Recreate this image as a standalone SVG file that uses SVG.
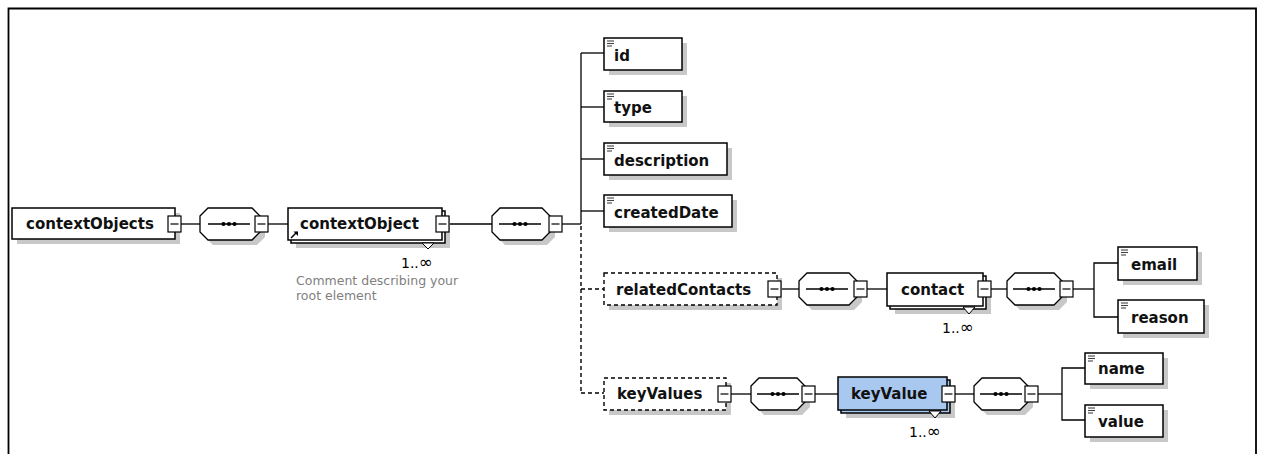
<svg xmlns="http://www.w3.org/2000/svg" width="1264" height="454" viewBox="0 0 1264 454">
<defs>
<style>
.bx{fill:#fff;stroke:#000;stroke-width:1.5}
.dbx{fill:#fff;stroke:#000;stroke-width:1.4;stroke-dasharray:4,3}
.blue{fill:#a9c8ef;stroke:#000;stroke-width:1.5}
.sh{fill:#c8c8c8}
.ln{fill:none;stroke:#000;stroke-width:1.3}
.dl{fill:none;stroke:#000;stroke-width:1.4;stroke-dasharray:4,3}
.t{font-family:"DejaVu Sans",sans-serif;font-weight:bold;font-size:15px;fill:#111}
.occ{font-family:"DejaVu Sans",sans-serif;font-size:14px;fill:#000}
.inf{font-size:17px}
.cm{font-family:"DejaVu Sans",sans-serif;font-size:12.5px;fill:#808080}
.btn{fill:#fff;stroke:#000;stroke-width:1.2}
.oct{fill:#fff;stroke:#000;stroke-width:1.3}
.ic{stroke:#444;stroke-width:1.1}
</style>
<g id="btn"><rect class="btn" x="0" y="0" width="13" height="16"/><line x1="2.5" y1="8" x2="10.5" y2="8" stroke="#000" stroke-width="1.2"/></g>
<g id="seqin"><line x1="-21" y1="0" x2="21" y2="0" stroke="#000" stroke-width="1.3"/><circle cx="-5.5" cy="0" r="2.1" fill="#000"/><circle cx="0" cy="0" r="2.1" fill="#000"/><circle cx="5.5" cy="0" r="2.1" fill="#000"/></g>
<g id="simp"><line class="ic" x1="0" y1="0" x2="7" y2="0"/><line class="ic" x1="0" y1="2.5" x2="7" y2="2.5"/><line class="ic" x1="0" y1="5" x2="5" y2="5"/></g>
</defs>
<rect width="1264" height="454" fill="#fff"/>
<path d="M8.5,454 V8.5 H1256 V454" fill="none" stroke="#000" stroke-width="1.8"/>

<g id="connectors">
<line class="ln" x1="181" y1="224" x2="200" y2="224"/>
<line class="ln" x1="268" y1="224" x2="288" y2="224"/>
<line class="ln" x1="449" y1="224" x2="492" y2="224"/>
<line class="ln" x1="562" y1="224" x2="581" y2="224"/>
<line class="ln" x1="581" y1="53" x2="581" y2="224"/>
<line class="dl" x1="581" y1="226" x2="581" y2="393"/>
<line class="ln" x1="581" y1="53" x2="604" y2="53"/>
<line class="ln" x1="581" y1="107" x2="604" y2="107"/>
<line class="ln" x1="581" y1="159" x2="604" y2="159"/>
<line class="ln" x1="581" y1="211" x2="604" y2="211"/>
<line class="dl" x1="581" y1="289" x2="604" y2="289"/>
<line class="dl" x1="581" y1="393" x2="604" y2="393"/>
<line class="ln" x1="781" y1="289" x2="799" y2="289"/>
<line class="ln" x1="867" y1="289" x2="887" y2="289"/>
<line class="ln" x1="991" y1="289" x2="1007" y2="289"/>
<line class="ln" x1="1073" y1="289" x2="1094" y2="289"/>
<path class="ln" d="M1118,263 H1094 V317 H1118"/>
<line class="ln" x1="731" y1="394" x2="751" y2="394"/>
<line class="ln" x1="815" y1="394" x2="838" y2="394"/>
<line class="ln" x1="955" y1="394" x2="974" y2="394"/>
<line class="ln" x1="1038" y1="394" x2="1062" y2="394"/>
<path class="ln" d="M1085,368 H1062 V420 H1085"/>
</g>

<g id="contextObjects">
<rect class="sh" x="17" y="213" width="163" height="31"/>
<rect class="bx" x="12" y="208" width="163" height="31"/>
<text class="t" x="26" y="229">contextObjects</text>
<use href="#btn" x="168" y="216"/>
</g>

<g id="seq1">
<path class="sh" d="M205,221 L213,213 L257,213 L265,221 L265,237 L257,245 L213,245 L205,237Z"/>
<path class="oct" d="M200,216 L208,208 L252,208 L260,216 L260,232 L252,240 L208,240 L200,232Z"/>
<use href="#seqin" x="229" y="224"/>
<use href="#btn" x="255" y="216"/>
</g>

<g id="contextObject">
<rect class="sh" x="296" y="216" width="154" height="32"/>
<rect class="bx" x="291" y="211" width="154" height="32"/>
<rect class="bx" x="288" y="208" width="154" height="32"/>
<text class="t" x="300" y="229">contextObject</text>
<path d="M291,238 L297,232" stroke="#000" stroke-width="1.5"/>
<path d="M293.5,231.5 L298,231.5 L298,236Z" fill="#000"/>
<use href="#btn" x="436" y="216"/>
<path d="M422,243 L434,243 L428,249Z" fill="#fff" stroke="#000" stroke-width="1"/>
<text class="occ" x="401" y="268">1..<tspan class="inf">∞</tspan></text>
<text class="cm" x="296" y="285">Comment describing your</text>
<text class="cm" x="296" y="300">root element</text>
</g>

<g id="seq2">
<path class="sh" d="M497,221 L505,213 L547,213 L555,221 L555,237 L547,245 L505,245 L497,237Z"/>
<path class="oct" d="M492,216 L500,208 L542,208 L550,216 L550,232 L542,240 L500,240 L492,232Z"/>
<use href="#seqin" x="520" y="224"/>
<use href="#btn" x="549" y="216"/>
</g>

<g id="id">
<rect class="sh" x="609" y="43" width="78" height="32"/>
<rect class="bx" x="604" y="38" width="78" height="32"/>
<use href="#simp" x="607" y="41"/>
<text class="t" x="614" y="61">id</text>
</g>
<g id="type">
<rect class="sh" x="609" y="96" width="78" height="31"/>
<rect class="bx" x="604" y="91" width="78" height="31"/>
<use href="#simp" x="607" y="94"/>
<text class="t" x="614" y="113">type</text>
</g>
<g id="description">
<rect class="sh" x="609" y="148" width="123" height="32"/>
<rect class="bx" x="604" y="143" width="123" height="32"/>
<use href="#simp" x="607" y="146"/>
<text class="t" x="614" y="166">description</text>
</g>
<g id="createdDate">
<rect class="sh" x="609" y="200" width="128" height="32"/>
<rect class="bx" x="604" y="195" width="128" height="32"/>
<use href="#simp" x="607" y="198"/>
<text class="t" x="614" y="218">createdDate</text>
</g>

<g id="relatedContacts">
<rect class="sh" x="609" y="278" width="173" height="32"/>
<rect class="dbx" x="604" y="273" width="173" height="32"/>
<text class="t" x="616" y="295">relatedContacts</text>
<use href="#btn" x="768" y="281"/>
</g>

<g id="seq3">
<path class="sh" d="M804,286 L812,278 L854,278 L862,286 L862,302 L854,310 L812,310 L804,302Z"/>
<path class="oct" d="M799,281 L807,273 L849,273 L857,281 L857,297 L849,305 L807,305 L799,297Z"/>
<use href="#seqin" x="827" y="289"/>
<use href="#btn" x="854" y="281"/>
</g>

<g id="contact">
<rect class="sh" x="895" y="281" width="96" height="33"/>
<rect class="bx" x="890" y="276" width="96" height="33"/>
<rect class="bx" x="887" y="273" width="96" height="33"/>
<text class="t" x="901" y="295">contact</text>
<use href="#btn" x="978" y="281"/>
<path d="M963,307 L975,307 L969,314Z" fill="#fff" stroke="#000" stroke-width="1"/>
<text class="occ" x="942" y="333">1..<tspan class="inf">∞</tspan></text>
</g>

<g id="seq4">
<path class="sh" d="M1012,286 L1020,278 L1059,278 L1067,286 L1067,302 L1059,310 L1020,310 L1012,302Z"/>
<path class="oct" d="M1007,281 L1015,273 L1054,273 L1062,281 L1062,297 L1054,305 L1015,305 L1007,297Z"/>
<use href="#seqin" x="1034" y="289"/>
<use href="#btn" x="1060" y="281"/>
</g>

<g id="email">
<rect class="sh" x="1123" y="252" width="79" height="33"/>
<rect class="bx" x="1118" y="247" width="79" height="33"/>
<use href="#simp" x="1121" y="250"/>
<text class="t" x="1131" y="270">email</text>
</g>
<g id="reason">
<rect class="sh" x="1123" y="305" width="86" height="33"/>
<rect class="bx" x="1118" y="300" width="86" height="33"/>
<use href="#simp" x="1121" y="303"/>
<text class="t" x="1131" y="323">reason</text>
</g>

<g id="keyValues">
<rect class="sh" x="609" y="383" width="122" height="32"/>
<rect class="dbx" x="604" y="378" width="122" height="32"/>
<text class="t" x="617" y="399">keyValues</text>
<use href="#btn" x="718" y="386"/>
</g>

<g id="seq5">
<path class="sh" d="M756,391 L764,383 L802,383 L810,391 L810,407 L802,415 L764,415 L756,407Z"/>
<path class="oct" d="M751,386 L759,378 L797,378 L805,386 L805,402 L797,410 L759,410 L751,402Z"/>
<use href="#seqin" x="778" y="394"/>
<use href="#btn" x="802" y="386"/>
</g>

<g id="keyValue">
<rect class="sh" x="846" y="385" width="109" height="33"/>
<rect class="blue" x="841" y="380" width="109" height="33"/>
<rect class="blue" x="838" y="377" width="109" height="33"/>
<text class="t" x="851" y="399">keyValue</text>
<use href="#btn" x="942" y="386"/>
<path d="M929,411 L941,411 L935,418Z" fill="#fff" stroke="#000" stroke-width="1"/>
<text class="occ" x="909" y="437">1..<tspan class="inf">∞</tspan></text>
</g>

<g id="seq6">
<path class="sh" d="M979,391 L987,383 L1025,383 L1033,391 L1033,407 L1025,415 L987,415 L979,407Z"/>
<path class="oct" d="M974,386 L982,378 L1020,378 L1028,386 L1028,402 L1020,410 L982,410 L974,402Z"/>
<use href="#seqin" x="1001" y="394"/>
<use href="#btn" x="1025" y="386"/>
</g>

<g id="name">
<rect class="sh" x="1090" y="358" width="78" height="31"/>
<rect class="bx" x="1085" y="353" width="78" height="31"/>
<use href="#simp" x="1088" y="356"/>
<text class="t" x="1098" y="374">name</text>
</g>
<g id="value">
<rect class="sh" x="1090" y="410" width="78" height="32"/>
<rect class="bx" x="1085" y="405" width="78" height="32"/>
<use href="#simp" x="1088" y="408"/>
<text class="t" x="1098" y="427">value</text>
</g>
</svg>
